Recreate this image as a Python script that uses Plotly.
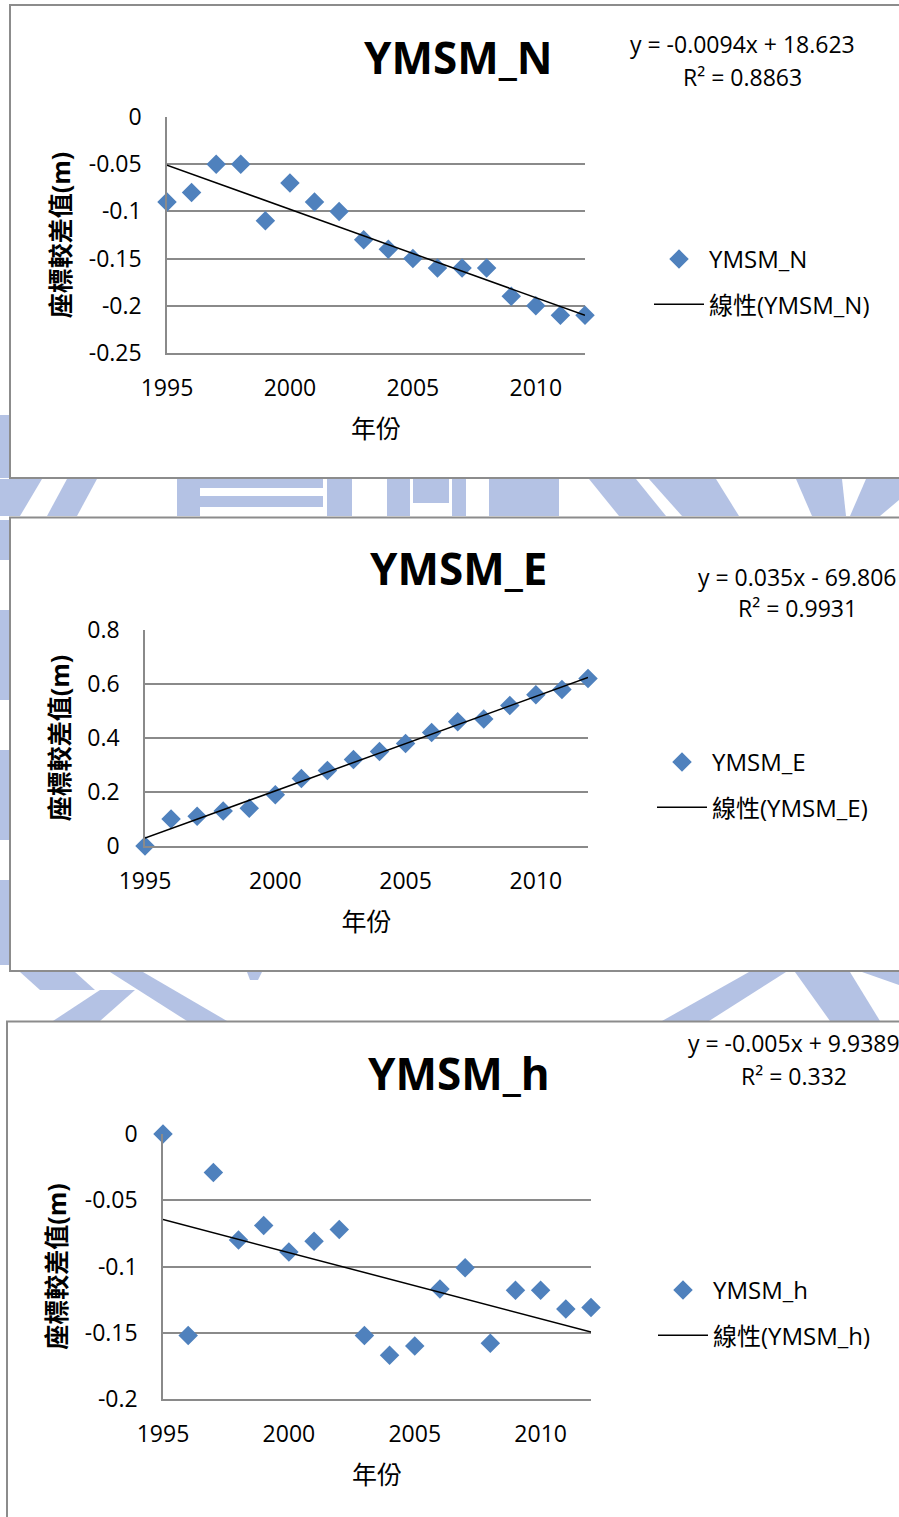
import numpy as np
import plotly.graph_objects as go

# ---------------- data ----------------
years = list(range(1995, 2013))
ymsm_n = [-0.09, -0.08, -0.05, -0.05, -0.11, -0.07, -0.09, -0.10, -0.13, -0.14,
          -0.15, -0.16, -0.16, -0.16, -0.19, -0.20, -0.21, -0.21]
ymsm_e = [0.00, 0.10, 0.11, 0.13, 0.14, 0.19, 0.25, 0.28, 0.32, 0.35,
          0.38, 0.42, 0.46, 0.47, 0.52, 0.56, 0.58, 0.62]
ymsm_h = [0.000, -0.152, -0.029, -0.080, -0.069, -0.089, -0.081, -0.072, -0.152, -0.167,
          -0.160, -0.117, -0.101, -0.158, -0.118, -0.118, -0.132, -0.131]

series_names = ["YMSM_N", "YMSM_E", "YMSM_h"]
trend_names = ["線性(YMSM_N)", "線性(YMSM_E)", "線性(YMSM_h)"]
equations = ["y = -0.0094x + 18.623", "y = 0.035x - 69.806", "y = -0.005x + 9.9389"]
r2_labels = ["R² = 0.8863", "R² = 0.9931", "R² = 0.332"]

x_tickvals = [1995, 2000, 2005, 2010]
x_ticktext = ["1995", "2000", "2005", "2010"]
y_tickvals_n = [0, -0.05, -0.1, -0.15, -0.2, -0.25]
y_ticktext_n = ["0", "-0.05", "-0.1", "-0.15", "-0.2", "-0.25"]
y_tickvals_e = [0, 0.2, 0.4, 0.6, 0.8]
y_ticktext_e = ["0", "0.2", "0.4", "0.6", "0.8"]
y_tickvals_h = [0, -0.05, -0.1, -0.15, -0.2]
y_ticktext_h = ["0", "-0.05", "-0.1", "-0.15", "-0.2"]

x_title = "年份"
y_title = "座標較差值(m)"

# ---------------- layout helpers ----------------
W, H = 899, 1517
FONT = "Open Sans, Noto Sans CJK TC, sans-serif"
BLUE = "#4F81BD"
GRID = "#8a8a8a"
WM = "rgb(180,194,228)"


def px(x):
    return x / W


def py(y):
    return 1 - y / H


panels = [
    dict(values=ymsm_n, tv=y_tickvals_n, tt=y_ticktext_n, yr=[-0.25, 0],
         box=(10, 5, 905, 478), plot=(167, 117, 585, 353), title_c=(459, 57),
         eq_c=(742, 44), r2_c=(742, 77), leg=(649, 237)),
    dict(values=ymsm_e, tv=y_tickvals_e, tt=y_ticktext_e, yr=[0, 0.8],
         box=(10, 517.5, 905, 971), plot=(145, 630, 588, 846), title_c=(459, 568),
         eq_c=(797, 577), r2_c=(797, 608), leg=(652, 740)),
    dict(values=ymsm_h, tv=y_tickvals_h, tt=y_ticktext_h, yr=[-0.2, 0],
         box=(7, 1021.5, 905, 1530), plot=(163, 1134, 591, 1399), title_c=(459, 1073),
         eq_c=(794, 1043), r2_c=(794, 1076), leg=(653, 1268)),
]

fig = go.Figure()
shapes = []
annotations = []

# faint watermark pieces visible between the chart panels
wm_polys = [
    [(0, 479), (42, 479), (20, 516), (0, 516)],
    [(67, 479), (97, 479), (77, 516), (47, 516)],
    [(177, 479), (323, 479), (323, 488), (200, 488), (200, 496), (323, 496), (323, 507),
     (200, 507), (200, 516), (177, 516)],
    [(327, 479), (352, 479), (352, 516), (327, 516)],
    [(387, 479), (410, 479), (410, 516), (387, 516)],
    [(413, 479), (449, 479), (449, 503), (413, 503)],
    [(452, 479), (466, 479), (466, 516), (452, 516)],
    [(489, 479), (559, 479), (559, 516), (489, 516)],
    [(589, 479), (636, 479), (666, 516), (619, 516)],
    [(649, 479), (716, 479), (739, 516), (682, 516)],
    [(796, 479), (842, 479), (846, 516), (812, 516)],
    [(866, 479), (899, 479), (899, 500), (880, 516), (850, 516)],
    [(20, 972), (75, 972), (95, 990), (40, 990)],
    [(53, 1021), (100, 1021), (135, 990), (100, 990)],
    [(110, 972), (143, 972), (227, 1021), (187, 1021)],
    [(247, 972), (262, 972), (258, 980), (250, 980)],
    [(662, 1021), (709, 1021), (786, 972), (749, 972)],
    [(795, 972), (850, 972), (880, 1021), (830, 1021)],
    [(862, 972), (899, 972), (899, 985)],
    [(0, 415), (9, 415), (9, 478), (0, 478)],
    [(0, 520), (9, 520), (9, 560), (0, 560)],
    [(0, 610), (9, 610), (9, 700), (0, 700)],
    [(0, 750), (9, 750), (9, 840), (0, 840)],
    [(0, 880), (9, 880), (9, 965), (0, 965)],
]
for poly in wm_polys:
    path = "M " + " L ".join(f"{px(a):.5f},{py(b):.5f}" for a, b in poly) + " Z"
    shapes.append(dict(type="path", xref="paper", yref="paper", path=path,
                       fillcolor=WM, line=dict(width=0), layer="below"))

layout_axes = {}
for i, p in enumerate(panels):
    n = i + 1
    xa = "xaxis" if n == 1 else f"xaxis{n}"
    ya = "yaxis" if n == 1 else f"yaxis{n}"
    xr = "x" if n == 1 else f"x{n}"
    yr = "y" if n == 1 else f"y{n}"
    lg = "legend" if n == 1 else f"legend{n}"

    x0, y0, x1, y1 = p["box"]
    shapes.append(dict(type="rect", xref="paper", yref="paper",
                       x0=px(x0), x1=px(x1), y0=py(y1), y1=py(y0),
                       fillcolor="white", line=dict(color="#8c8c8c", width=2),
                       layer="below"))

    vals = p["values"]
    coef = np.polyfit(years, vals, 1)
    trend = np.polyval(coef, years)

    fig.add_trace(go.Scatter(
        x=years, y=vals, mode="markers", name=series_names[i],
        marker=dict(symbol="diamond", size=15, color=BLUE, line=dict(width=0)),
        cliponaxis=False, xaxis=xr, yaxis=yr, legend=lg, legendgroup=f"a{n}"))
    fig.add_trace(go.Scatter(
        x=years, y=trend, mode="lines", name=trend_names[i],
        line=dict(color="black", width=1.5),
        cliponaxis=False, xaxis=xr, yaxis=yr, legend=lg, legendgroup=f"b{n}"))

    pl, pt, pr, pb = p["plot"]
    layout_axes[xa] = dict(
        domain=[px(pl), px(pr)], range=[1995, 2012], anchor=yr,
        tickvals=x_tickvals, ticktext=x_ticktext, showgrid=False, zeroline=False,
        showline=True, linecolor=GRID, linewidth=1.5, ticks="", ticklabelstandoff=14,
        tickfont=dict(family=FONT, size=23, color="black"), automargin=False,
        title=dict(text=x_title, standoff=18, font=dict(family=FONT, size=25, color="black")))
    layout_axes[ya] = dict(
        domain=[py(pb), py(pt)], range=p["yr"], anchor=xr,
        tickvals=p["tv"], ticktext=p["tt"], showgrid=True, gridcolor=GRID, gridwidth=1.5,
        zeroline=False, showline=True, linecolor=GRID, linewidth=1.5, ticks="",
        ticklabelstandoff=19, tickfont=dict(family=FONT, size=23, color="black"),
        automargin=False,
        title=dict(text=f"<b>{y_title}</b>", standoff=11,
                   font=dict(family=FONT, size=25, color="black")))

    lx, ly = p["leg"]
    layout_axes[lg] = dict(
        x=px(lx), y=py(ly), xanchor="left", yanchor="top", bgcolor="rgba(0,0,0,0)",
        font=dict(family=FONT, size=24, color="black"), traceorder="grouped",
        tracegroupgap=11, itemwidth=50)

    tx, ty = p["title_c"]
    annotations.append(dict(xref="paper", yref="paper", x=px(tx), y=py(ty),
                            xanchor="center", yanchor="middle", showarrow=False,
                            text=f"<b>{series_names[i]}</b>",
                            font=dict(family=FONT, size=44, color="black")))
    ex, ey = p["eq_c"]
    annotations.append(dict(xref="paper", yref="paper", x=px(ex), y=py(ey),
                            xanchor="center", yanchor="middle", showarrow=False,
                            text=equations[i], font=dict(family=FONT, size=23, color="black")))
    rx, ry = p["r2_c"]
    annotations.append(dict(xref="paper", yref="paper", x=px(rx), y=py(ry),
                            xanchor="center", yanchor="middle", showarrow=False,
                            text=r2_labels[i], font=dict(family=FONT, size=23, color="black")))

fig.update_layout(
    width=W, height=H, margin=dict(l=0, r=0, t=0, b=0),
    paper_bgcolor="white", plot_bgcolor="rgba(0,0,0,0)",
    shapes=shapes, annotations=annotations, showlegend=True,
    **layout_axes)

fig.write_html("out.html")
